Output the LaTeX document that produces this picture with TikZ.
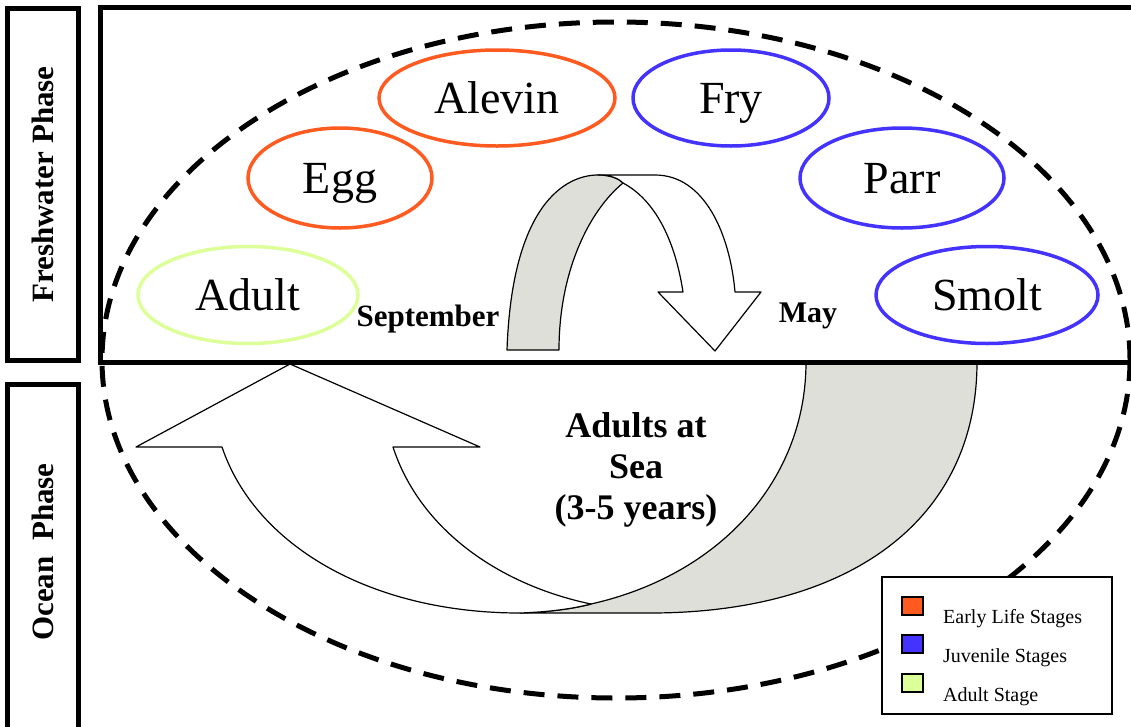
\documentclass[tikz,border=0pt]{standalone}
\usepackage{fontspec}
\setmainfont{Liberation Serif}
\usetikzlibrary{shapes.geometric}
\definecolor{orng}{HTML}{FF5A1F}
\definecolor{blu}{HTML}{4433FF}
\definecolor{grn}{HTML}{DDFF99}
\definecolor{bandgray}{HTML}{DFDFDA}
\begin{document}
\begin{tikzpicture}[x=1pt,y=-1pt,
  stage/.style={ellipse, line width=3.5pt, inner sep=0pt,
    font=\fontsize{46}{50}\selectfont, text height=31pt, text depth=0pt},
  phasebox/.style={draw, line width=5pt, inner sep=0pt, rotate=90},
  phasetext/.style={rotate=90, font=\bfseries\fontsize{31}{34}\selectfont},
  boldlbl/.style={font=\bfseries\fontsize{31}{34}\selectfont, inner sep=0pt},
  ribbon/.style={draw, line width=1.2pt, line join=round},
  legsq/.style={draw, line width=1.5pt, minimum width=21pt, minimum height=18pt, inner sep=0pt},
  legtxt/.style={anchor=base west, inner sep=0pt, font=\fontsize{20}{22}\selectfont}
]
\useasboundingbox (0,0) rectangle (1131,726);
\clip (0,0) rectangle (1131,726);
\fill[white] (0,0) rectangle (1131,726);

% dashed life-cycle ellipse
\draw[line width=5pt, dash pattern=on 21pt off 13pt] (616,360) ellipse [x radius=514, y radius=338];

% lower (ocean) arrow: grey back band
\draw[ribbon, fill=bandgray] (977,362) .. controls (977,520) and (850,613) .. (650,613)
  -- (520,613) .. controls (548,612) and (572,609) .. (591,604)
  .. controls (720,575) and (806,480) .. (806,362) -- cycle;
% lower arrow: white front with head
\draw[ribbon, fill=white] (520,613) .. controls (370,613) and (255,545) .. (222,447)
  -- (136,447) -- (290,364) -- (480,447) -- (393,447)
  .. controls (420,530) and (500,585) .. (591,604)
  .. controls (572,609) and (548,612) .. (520,613) -- cycle;

% upper (freshwater) arrow: grey back band
\draw[ribbon, fill=bandgray] (507,350) .. controls (512,205) and (565,175) .. (598,175)
  .. controls (610,175) and (618,178) .. (623,183)
  .. controls (590,210) and (559,270) .. (559,350) -- cycle;
% upper arrow: white front with head
\draw[ribbon, fill=white] (598,175) -- (655,175)
  .. controls (705,175) and (730,235) .. (735,292)
  -- (761,292) -- (715,351) -- (658,292) -- (683,292)
  .. controls (675,240) and (655,200) .. (623,183)
  .. controls (618,178) and (610,175) .. (598,175) -- cycle;

% phase boxes
\draw[line width=5pt] (1160,7.5) -- (100.5,7.5) -- (100.5,362.5) -- (1160,362.5);
\node[phasebox, minimum width=352.5pt, minimum height=71pt] (fwbox) at (43,184.5) {};
\node[phasetext] (fwtext) at (43,184.5) {Freshwater Phase};
\node[phasebox, minimum width=390pt, minimum height=71pt] (ocbox) at (43,579.5) {};
\node[phasetext] (octext) at (43,552) {Ocean\ \ Phase};

% life stages
\node[stage, draw=orng, minimum width=236pt, minimum height=96pt] (alevin) at (497,98) {Alevin};
\node[stage, draw=blu, minimum width=196pt, minimum height=96pt] (fry) at (731,98) {Fry};
\node[stage, draw=orng, minimum width=184pt, minimum height=100pt] (egg) at (340,178) {Egg};
\node[stage, draw=blu, minimum width=204pt, minimum height=100pt] (parr) at (902,178) {Parr};
\node[stage, draw=grn, minimum width=220pt, minimum height=97pt] (adult) at (248,295) {Adult};
\node[stage, draw=blu, minimum width=222pt, minimum height=97pt] (smolt) at (987,295) {Smolt};

% labels
\node[boldlbl, anchor=base] (sept) at (428,326) {September};
\node[boldlbl, anchor=base, font=\bfseries\fontsize{30}{33}\selectfont] (may) at (808,322) {May};
\node[align=center, inner sep=0pt, font=\bfseries\fontsize{36}{41}\selectfont] (sea) at (636,470)
  {Adults at\\Sea\\(3-5 years)};

% legend
\node[draw, line width=1.5pt, fill=white, minimum width=230pt, minimum height=137pt, inner sep=0pt] (legend) at (997,645.5) {};
\node[legsq, fill=orng] (sq1) at (912.5,606) {};
\node[legsq, fill=blu] (sq2) at (912.5,644) {};
\node[legsq, fill=grn] (sq3) at (912.5,683) {};
\node[legtxt] (lt1) at (943,623) {Early Life Stages};
\node[legtxt] (lt2) at (943,662) {Juvenile Stages};
\node[legtxt] (lt3) at (943,701) {Adult Stage};
\end{tikzpicture}
\end{document}
